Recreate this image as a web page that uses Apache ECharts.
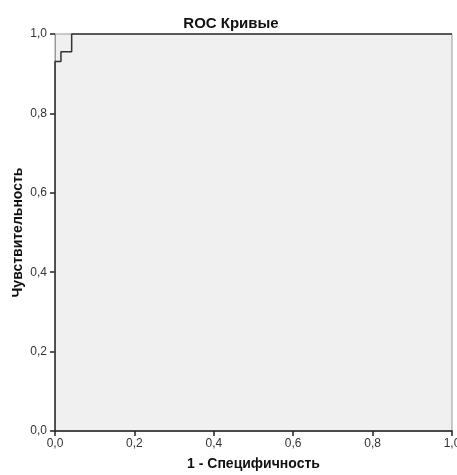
<!DOCTYPE html>
<html>
<head>
<meta charset="utf-8">
<script src="https://cdn.jsdelivr.net/npm/echarts@6/dist/echarts.min.js"></script>
<style>
  html, body { margin: 0; padding: 0; background: #fff; }
  #chart { width: 457px; height: 475px; }
</style>
</head>
<body>
<div id="chart"></div>
<script>
// ROC curve points (1 - specificity, sensitivity)
var fpr = [0, 0, 0.015, 0.015, 0.042, 0.042, 1];
var sens = [0, 0.931, 0.931, 0.955, 0.955, 1, 1];

var points = fpr.map(function (x, i) { return [x, sens[i]]; });

function fmt(v) {
    return v.toFixed(1).replace('.', ',');
}

var chart = echarts.init(document.getElementById('chart'));
chart.setOption({
    animation: false,
    title: {
        text: 'ROC Кривые',
        left: 226,
        textAlign: 'center',
        top: 11,
        textStyle: {
            fontFamily: 'Liberation Sans',
            fontSize: 15,
            fontWeight: 'bold',
            color: '#111'
        }
    },
    grid: {
        left: 55,
        right: 5,
        top: 34,
        bottom: 44,
        containLabel: false,
        outerBoundsMode: 'none',
        show: true,
        backgroundColor: '#f0f0f0',
        borderColor: '#999',
        borderWidth: 1
    },
    xAxis: {
        type: 'value',
        min: 0,
        max: 1,
        interval: 0.2,
        name: '1 - Специфичность',
        nameLocation: 'middle',
        nameGap: 26,
        nameMoveOverlap: false,
        nameTextStyle: {
            fontFamily: 'Liberation Sans',
            fontSize: 14,
            fontWeight: 'bold',
            color: '#111'
        },
        axisLine: { show: true, lineStyle: { color: '#222', width: 1.5 } },
        axisTick: { show: true, length: 5, lineStyle: { color: '#222', width: 1.5 } },
        axisLabel: {
            fontFamily: 'Liberation Sans',
            fontSize: 12,
            color: '#333',
            margin: 7,
            formatter: fmt
        },
        splitLine: { show: false }
    },
    yAxis: {
        type: 'value',
        min: 0,
        max: 1,
        interval: 0.2,
        name: 'Чувствительность',
        nameLocation: 'middle',
        nameGap: 30,
        nameMoveOverlap: false,
        nameTextStyle: {
            fontFamily: 'Liberation Sans',
            fontSize: 14,
            fontWeight: 'bold',
            color: '#111'
        },
        axisLine: { show: true, lineStyle: { color: '#999', width: 1 } },
        axisTick: { show: true, length: 5, lineStyle: { color: '#222', width: 1.5 } },
        axisLabel: {
            fontFamily: 'Liberation Sans',
            fontSize: 12,
            color: '#333',
            margin: 8,
            formatter: fmt
        },
        splitLine: { show: false }
    },
    series: [
        {
            type: 'line',
            data: points,
            showSymbol: false,
            lineStyle: { color: '#333', width: 1.5 },
            clip: false
        }
    ]
});
</script>
</body>
</html>
